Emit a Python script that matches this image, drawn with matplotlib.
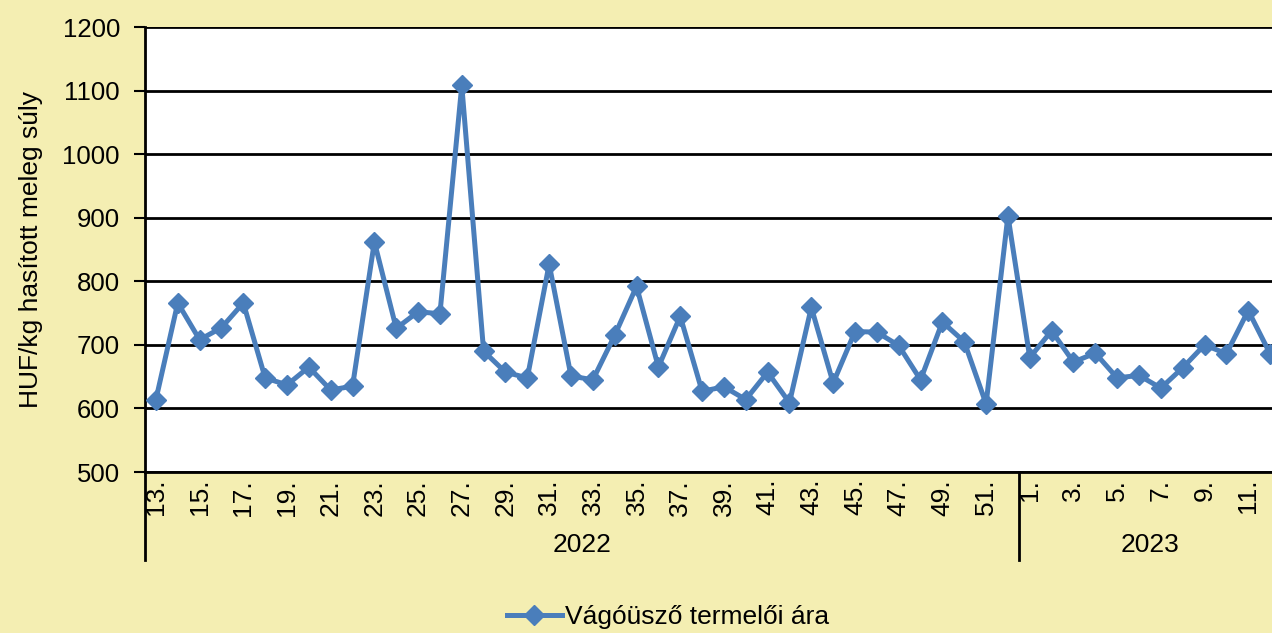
import matplotlib
matplotlib.use("Agg")
import matplotlib.pyplot as plt
import matplotlib.transforms as mtransforms

# weekly producer price, HUF/kg carcass weight
weeks_2022 = list(range(13, 53))
weeks_2023 = list(range(1, 13))
prices_2022 = [614, 766, 708, 727, 766, 648, 637, 665, 629, 635,
               862, 726, 752, 749, 1108, 690, 657, 648, 827, 651,
               645, 715, 792, 665, 745, 627, 634, 614, 657, 609,
               759, 640, 721, 720, 699, 645, 736, 705, 607, 903]
prices_2023 = [680, 722, 673, 687, 648, 652, 632, 664, 700, 686, 754, 686]
years = ["2022", "2023"]
series_name = "Vágóüsző termelői ára"
y_label = "HUF/kg hasított meleg súly"

plt.rcParams['font.family'] = ['Liberation Sans', 'DejaVu Sans']
bg = "#F4EEB2"
blue = "#4A7EBB"

labels = [f"{w}." for w in weeks_2022] + [f"{w}." for w in weeks_2023]
values = prices_2022 + prices_2023
xs = list(range(len(values)))

fig = plt.figure(figsize=(12.72, 6.33), dpi=100, facecolor=bg)
ax = fig.add_axes([145 / 1272, 1 - 472 / 633, 1136 / 1272, 445 / 633])
ax.set_facecolor("white")

ax.plot(xs, values, color=blue, linewidth=3.6, marker="D", markersize=10,
        markeredgecolor=blue, markerfacecolor=blue, label=series_name,
        zorder=3, clip_on=False)

ax.set_ylim(500, 1200)
ax.set_yticks(range(500, 1201, 100))
ax.set_xlim(-0.5, len(values) - 0.5)
ax.grid(axis="y", color="black", linewidth=2)
ax.set_axisbelow(True)

# every other week label (both years start on an odd week)
tick_pos = [i for i, lab in enumerate(labels) if int(lab[:-1]) % 2 == 1]
ax.set_xticks(tick_pos)
ax.set_xticklabels([labels[i] for i in tick_pos], rotation=90, fontsize=19)
ax.tick_params(axis="x", length=0, pad=5)
ax.tick_params(axis="y", labelsize=18.5, length=8, width=1.5, direction="out", pad=10)

for side in ["top", "right"]:
    ax.spines[side].set_visible(False)
ax.spines["left"].set_linewidth(2)
ax.spines["bottom"].set_linewidth(2)

ax.set_ylabel(y_label, fontsize=19, labelpad=14)

# year group separators and labels
trans = mtransforms.blended_transform_factory(ax.transData, ax.transAxes)
n22 = len(prices_2022)
for xpos in [-0.5, n22 - 0.5]:
    ax.plot([xpos, xpos], [0, -0.198], transform=trans, color="black",
            linewidth=2, clip_on=False)
ax.text((n22 - 1) / 2, -0.165, years[0], transform=trans, ha="center",
        va="center", fontsize=19)
ax.text(n22 + (len(prices_2023) - 1) / 2, -0.165, years[1], transform=trans,
        ha="center", va="center", fontsize=19)

fig.legend(loc="center", bbox_to_anchor=(668 / 1272, 1 - 617 / 633),
           frameon=False, fontsize=19, handlelength=2.1, handletextpad=0.12)

fig.savefig("out.png", dpi=100, facecolor=bg)
